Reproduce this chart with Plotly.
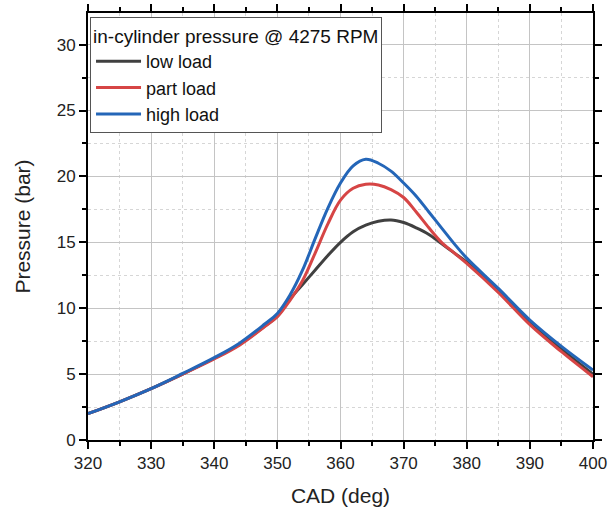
import plotly.graph_objects as go

# Crank angle (deg) and in-cylinder pressure (bar) for three load points
cad = [320, 325, 330, 335, 340, 344, 348, 350, 352, 354, 356, 358, 360,
       362, 364, 366, 368, 370, 372, 374, 376, 378, 380, 385, 390, 395, 400]

p_low = [2.0, 2.9, 3.9, 5.0, 6.2, 7.25, 8.65, 9.4, 10.7, 11.8, 12.9, 14.0, 15.0,
         15.8, 16.3, 16.6, 16.7, 16.5, 16.1, 15.6, 14.9, 14.2, 13.5, 11.3, 8.9, 6.9, 5.0]

p_part = [2.0, 2.9, 3.9, 5.0, 6.15, 7.2, 8.6, 9.35, 10.6, 12.1, 14.2, 16.4, 18.2,
          19.1, 19.4, 19.35, 19.0, 18.4, 17.3, 16.1, 15.0, 14.2, 13.4, 11.2, 8.75, 6.7, 4.8]

p_high = [2.0, 2.9, 3.9, 5.05, 6.25, 7.35, 8.8, 9.6, 11.0, 12.9, 15.3, 17.6, 19.5,
          20.8, 21.3, 21.0, 20.4, 19.5, 18.5, 17.3, 16.1, 14.9, 13.8, 11.5, 9.1, 7.1, 5.3]

series = [
    ("low load", p_low, "#404040"),
    ("part load", p_part, "#d64545"),
    ("high load", p_high, "#2466b8"),
]

FONT = "Liberation Sans, Arial, sans-serif"

fig = go.Figure()
for name, vals, color in series:
    fig.add_trace(go.Scatter(
        x=cad, y=vals, name=name, mode="lines",
        line=dict(color=color, width=3, shape="spline", smoothing=1.0),
    ))

axis_common = dict(
    showline=True, linecolor="black", linewidth=2,
    mirror="allticks", ticks="outside", ticklen=7, tickwidth=2, tickcolor="black",
    showgrid=True, gridcolor="#c4c4c4", gridwidth=1,
    zeroline=False, automargin=False,
    tickfont=dict(family=FONT, size=17, color="#222"),
)

fig.update_xaxes(
    range=[320, 400], dtick=10, tick0=320,
    title=dict(text="CAD (deg)", font=dict(family=FONT, size=21, color="#222"), standoff=16),
    minor=dict(dtick=5, ticks="outside", ticklen=4, tickwidth=2, tickcolor="black",
               showgrid=True, gridcolor="#d6d6d6", griddash="dot", gridwidth=1),
    **axis_common,
)
fig.update_yaxes(
    range=[0, 32.4], dtick=5, tick0=0,
    title=dict(text="Pressure (bar)", font=dict(family=FONT, size=21, color="#222"), standoff=20),
    minor=dict(dtick=2.5, ticks="outside", ticklen=4, tickwidth=2, tickcolor="black",
               showgrid=True, gridcolor="#d6d6d6", griddash="dot", gridwidth=1),
    **axis_common,
)

fig.update_layout(
    width=608, height=514,
    margin=dict(l=88, r=15, t=13, b=74),
    paper_bgcolor="white", plot_bgcolor="white",
    font=dict(family=FONT, size=18, color="#111"),
    legend=dict(
        title=dict(text="in-cylinder pressure @ 4275 RPM", font=dict(family=FONT, size=19)),
        x=0.004, y=0.99, xanchor="left", yanchor="top",
        bgcolor="white", bordercolor="#555", borderwidth=1,
        font=dict(family=FONT, size=18),
        itemwidth=45,
        tracegroupgap=0,
    ),
)

fig.write_html("out.html")
